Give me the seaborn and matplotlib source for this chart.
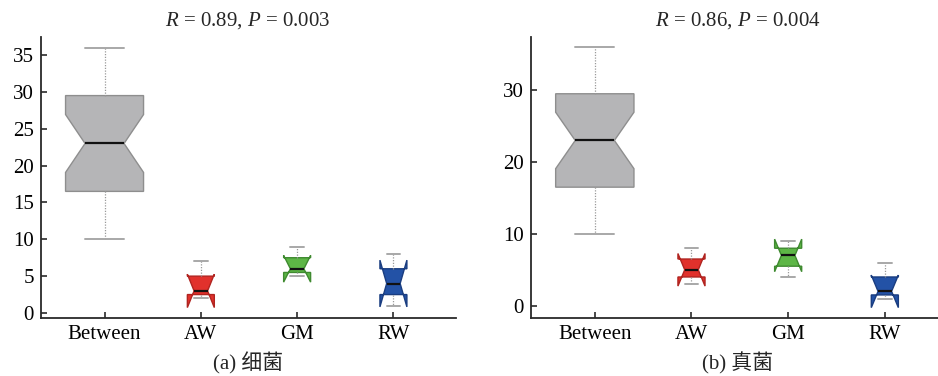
import matplotlib
matplotlib.use("Agg")
import matplotlib.pyplot as plt
import seaborn as sns
import pandas as pd

# ---------------- data ----------------
categories = ["Between", "AW", "GM", "RW"]

# (a) bacteria: distances per group
bac_between = [10, 11, 13, 14, 15, 15, 16, 17, 18, 20, 21, 21, 22, 23,
               24, 25, 26, 27, 28, 29, 30, 31, 32, 33, 34, 35, 36]
bac_AW = [2, 3, 7]
bac_GM = [5, 6, 9]
bac_RW = [1, 4, 8]

# (b) fungi
fun_between = [10, 12, 12, 14, 15, 16, 16, 17, 19, 19, 20, 22, 22, 23,
               24, 25, 26, 27, 28, 29, 30, 31, 31, 33, 34, 35, 36]
fun_AW = [3, 5, 8]
fun_GM = [4, 7, 9]
fun_RW = [1, 2, 6]

title_parts = [("0.89", "0.003"), ("0.86", "0.004")]
captions = ["(a) 细菌", "(b) 真菌"]
yticks_list = [[0, 5, 10, 15, 20, 25, 30, 35], [0, 10, 20, 30]]

face_colors = {"Between": "#b5b5b7", "AW": "#e1312c", "GM": "#5db646", "RW": "#2352a6"}
edge_colors = {"Between": "#8e8e8e", "AW": "#b02420", "GM": "#3f8a30", "RW": "#1a3d80"}


def long_df(between, aw, gm, rw):
    rows = []
    for name, vals in zip(categories, [between, aw, gm, rw]):
        for v in vals:
            rows.append({"group": name, "value": v})
    return pd.DataFrame(rows)


dfs = [long_df(bac_between, bac_AW, bac_GM, bac_RW),
       long_df(fun_between, fun_AW, fun_GM, fun_RW)]

# ---------------- style ----------------
sns.set_theme(style="white")
plt.rcParams["font.family"] = ["Liberation Serif", "Noto Sans CJK SC"]
plt.rcParams["mathtext.fontset"] = "custom"
plt.rcParams["mathtext.rm"] = "Liberation Serif"
plt.rcParams["mathtext.it"] = "Liberation Serif:italic"

FS = 15
fig = plt.figure(figsize=(9.38, 3.76), dpi=100)
W, H = 938, 376
# axes boxes in pixel coordinates: left, top, right, bottom
boxes = [(41, 37, 456, 318), (531, 37, 938, 318)]
ylims = [(-0.68, 37.45), (-1.71, 37.4)]
xlims = [(-0.66, 3.65), (-0.66, 3.55)]
caption_x = [248, 738]

for i in range(2):
    l, t, r, b = boxes[i]
    ax = fig.add_axes([l / W, 1 - b / H, (r - l) / W, (b - t) / H])
    df = dfs[i]
    common = dict(
        x="group", y="value", hue="group", order=categories,
        palette=face_colors, saturation=1, legend=False, notch=True,
        whis=1.5, showfliers=False, ax=ax,
        whiskerprops=dict(color="#9a9a9a", linestyle=(0, (1, 1.2)), linewidth=0.9, zorder=3),
        capprops=dict(color="#a8a8a8", linewidth=1.4, zorder=3),
        medianprops=dict(color="#111111", linewidth=1.6, zorder=4),
    )
    for name in categories:
        sub = df[df["group"] == name]
        sns.boxplot(
            data=sub, width=0.81 if name == "Between" else 0.28,
            hue_order=categories,
            boxprops=dict(edgecolor=edge_colors[name], linewidth=1.0),
            **common,
        )
    ax.set_xlim(*xlims[i])
    ax.set_ylim(*ylims[i])
    ax.set_yticks(yticks_list[i])
    ax.set_xlabel("")
    ax.set_ylabel("")
    for s in ["top", "right"]:
        ax.spines[s].set_visible(False)
    for s in ["left", "bottom"]:
        ax.spines[s].set_color("#2a2a2a")
        ax.spines[s].set_linewidth(1.3)
    ax.tick_params(axis="both", direction="in", length=4, width=1.2,
                   colors="#2a2a2a", labelcolor="black", labelsize=FS,
                   left=True, bottom=True, pad=5)
    rv, pv = title_parts[i]
    fig.text(caption_x[i] / W, 1 - 21 / H,
             r"$\mathit{R}$ = " + rv + r", $\mathit{P}$ = " + pv,
             ha="center", va="center", fontsize=FS)
    fig.text(caption_x[i] / W, 1 - 363 / H, captions[i],
             ha="center", va="center", fontsize=FS,
             family=["Liberation Serif", "Noto Sans CJK SC"])

fig.savefig("out.png", dpi=100)
